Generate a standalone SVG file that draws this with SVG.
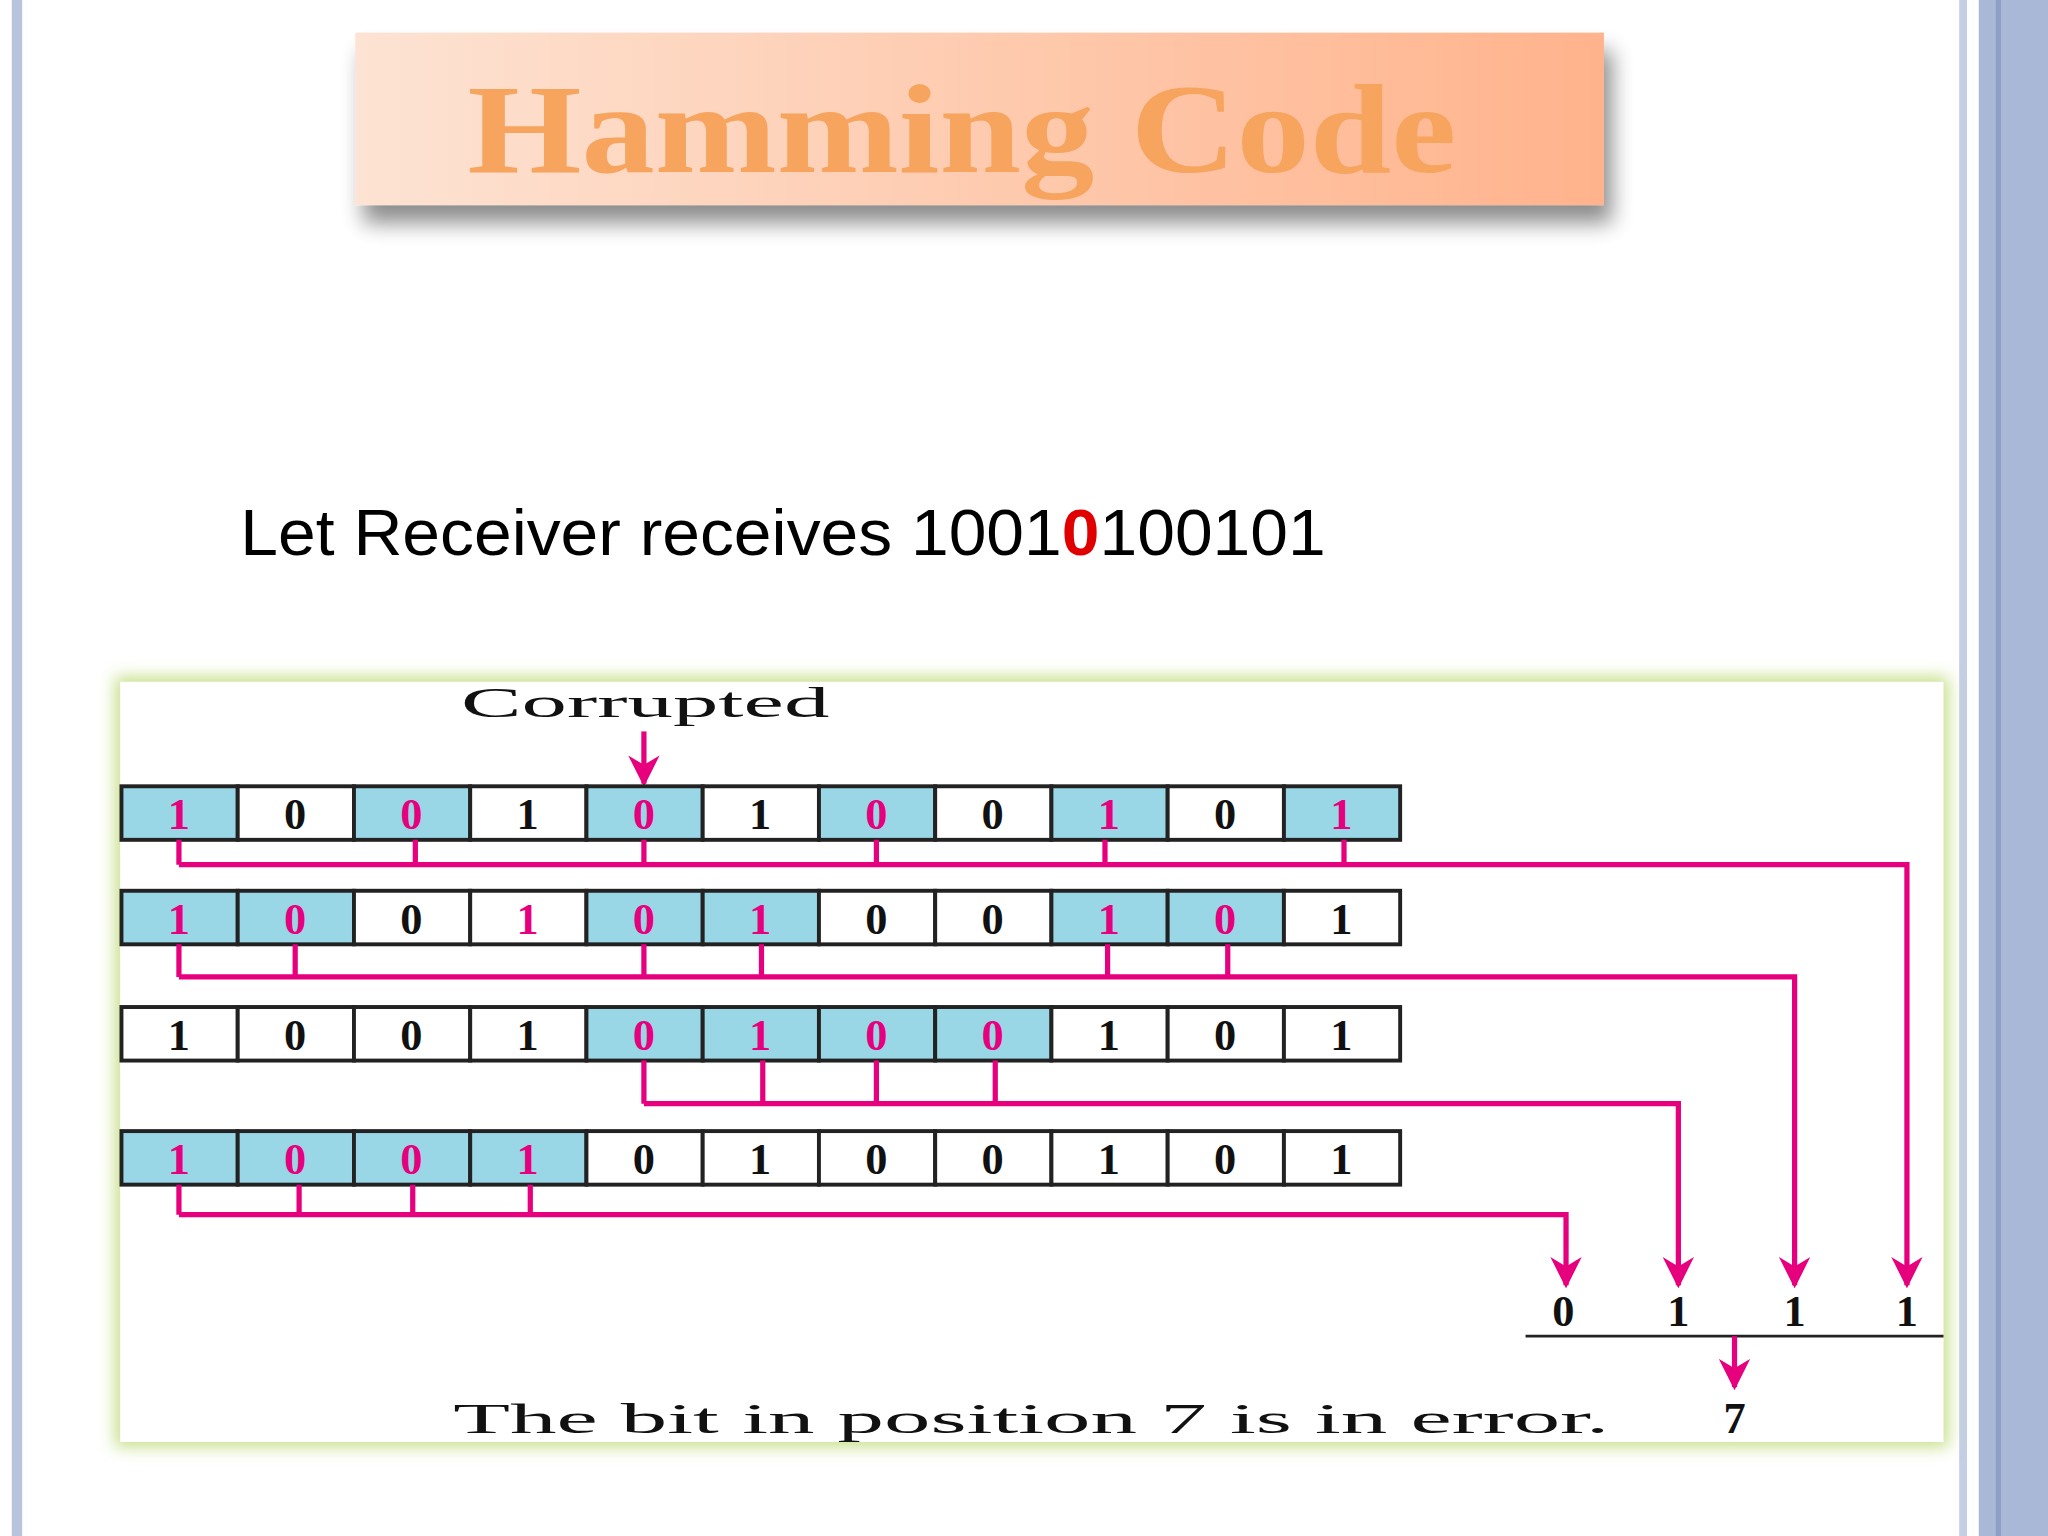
<svg xmlns="http://www.w3.org/2000/svg" width="2048" height="1536" viewBox="0 0 2048 1536">
<defs>
<linearGradient id="tg" x1="0" y1="0" x2="1" y2="0"><stop offset="0" stop-color="#FDE3D3"/><stop offset="1" stop-color="#FFB38C"/></linearGradient>
<filter id="sh" x="-10%" y="-30%" width="120%" height="170%"><feGaussianBlur in="SourceAlpha" stdDeviation="8"/><feOffset dx="6" dy="14"/><feComponentTransfer><feFuncA type="linear" slope="0.45"/></feComponentTransfer><feMerge><feMergeNode/><feMergeNode in="SourceGraphic"/></feMerge></filter>
<filter id="gl" x="-5%" y="-5%" width="110%" height="115%"><feGaussianBlur stdDeviation="6"/></filter>
<marker id="ar" viewBox="0 0 10 10" refX="9" refY="5" markerWidth="24" markerHeight="24" orient="auto" markerUnits="userSpaceOnUse"><path d="M0,0 L3,5 L0,10 L10,5 Z" fill="#E6007E"/></marker>
<style>
.c{stroke:#222;stroke-width:3;fill:#fff}
.b{fill:#99D6E6}
.t{font-family:"Liberation Serif",serif;font-weight:bold;font-size:34px;text-anchor:middle;fill:#111}
.p{fill:#E6007E}
.w{fill:none;stroke:#E6007E;stroke-width:4}
</style>
</defs>
<g transform="scale(1.30612)">
<rect width="1568" height="1176" fill="#fff"/>
<rect x="9" y="0" width="8" height="1176" fill="#B8C4DE"/>
<rect x="1500" y="0" width="6" height="1176" fill="#C4CEE4"/>
<rect x="1515" y="0" width="53" height="1176" fill="#A9B8D6"/>
<rect x="1528" y="0" width="4" height="1176" fill="#8EA0C6"/>
<g id="title">
<rect x="272" y="25" width="956" height="132" fill="url(#tg)" filter="url(#sh)"/>
<text x="358" y="132" font-family="Liberation Serif,serif" font-weight="bold" font-size="98" fill="#F6A45E" textLength="757" lengthAdjust="spacingAndGlyphs">Hamming Code</text>
</g>
<text x="184" y="425" font-family="Liberation Sans,Arial,sans-serif" font-size="50" fill="#000" textLength="831" lengthAdjust="spacingAndGlyphs">Let Receiver receives 1001<tspan fill="#E00000" font-weight="bold">0</tspan>100101</text>
<g id="panel">
<rect x="88" y="518" width="1404" height="590" fill="#C8E08C" filter="url(#gl)"/>
<rect x="92" y="522" width="1396" height="582" fill="#fff"/>
</g>
<g id="corrupted">
<text x="353" y="549" font-family="Liberation Serif,serif" font-size="32" fill="#111" textLength="282" lengthAdjust="spacingAndGlyphs">Corrupted</text>
<line x1="493" y1="560" x2="493" y2="600" class="w" marker-end="url(#ar)"/>
</g>
<g id="row1">
<rect class="c b" x="93" y="602" width="89" height="41"/><rect class="c" x="182" y="602" width="89" height="41"/><rect class="c b" x="271" y="602" width="89" height="41"/><rect class="c" x="360" y="602" width="89" height="41"/><rect class="c b" x="449" y="602" width="89" height="41"/><rect class="c" x="538" y="602" width="89" height="41"/><rect class="c b" x="627" y="602" width="89" height="41"/><rect class="c" x="716" y="602" width="89" height="41"/><rect class="c b" x="805" y="602" width="89" height="41"/><rect class="c" x="894" y="602" width="89" height="41"/><rect class="c b" x="983" y="602" width="89" height="41"/>
<text class="t p" x="137" y="635">1</text><text class="t" x="226" y="635">0</text><text class="t p" x="315" y="635">0</text><text class="t" x="404" y="635">1</text><text class="t p" x="493" y="635">0</text><text class="t" x="582" y="635">1</text><text class="t p" x="671" y="635">0</text><text class="t" x="760" y="635">0</text><text class="t p" x="849" y="635">1</text><text class="t" x="938" y="635">0</text><text class="t p" x="1027" y="635">1</text>
</g>
<g id="row2">
<rect class="c b" x="93" y="682" width="89" height="41"/><rect class="c b" x="182" y="682" width="89" height="41"/><rect class="c" x="271" y="682" width="89" height="41"/><rect class="c" x="360" y="682" width="89" height="41"/><rect class="c b" x="449" y="682" width="89" height="41"/><rect class="c b" x="538" y="682" width="89" height="41"/><rect class="c" x="627" y="682" width="89" height="41"/><rect class="c" x="716" y="682" width="89" height="41"/><rect class="c b" x="805" y="682" width="89" height="41"/><rect class="c b" x="894" y="682" width="89" height="41"/><rect class="c" x="983" y="682" width="89" height="41"/>
<text class="t p" x="137" y="715">1</text><text class="t p" x="226" y="715">0</text><text class="t" x="315" y="715">0</text><text class="t p" x="404" y="715">1</text><text class="t p" x="493" y="715">0</text><text class="t p" x="582" y="715">1</text><text class="t" x="671" y="715">0</text><text class="t" x="760" y="715">0</text><text class="t p" x="849" y="715">1</text><text class="t p" x="938" y="715">0</text><text class="t" x="1027" y="715">1</text>
</g>
<g id="row3">
<rect class="c" x="93" y="771" width="89" height="41"/><rect class="c" x="182" y="771" width="89" height="41"/><rect class="c" x="271" y="771" width="89" height="41"/><rect class="c" x="360" y="771" width="89" height="41"/><rect class="c b" x="449" y="771" width="89" height="41"/><rect class="c b" x="538" y="771" width="89" height="41"/><rect class="c b" x="627" y="771" width="89" height="41"/><rect class="c b" x="716" y="771" width="89" height="41"/><rect class="c" x="805" y="771" width="89" height="41"/><rect class="c" x="894" y="771" width="89" height="41"/><rect class="c" x="983" y="771" width="89" height="41"/>
<text class="t" x="137" y="804">1</text><text class="t" x="226" y="804">0</text><text class="t" x="315" y="804">0</text><text class="t" x="404" y="804">1</text><text class="t p" x="493" y="804">0</text><text class="t p" x="582" y="804">1</text><text class="t p" x="671" y="804">0</text><text class="t p" x="760" y="804">0</text><text class="t" x="849" y="804">1</text><text class="t" x="938" y="804">0</text><text class="t" x="1027" y="804">1</text>
</g>
<g id="row4">
<rect class="c b" x="93" y="866" width="89" height="41"/><rect class="c b" x="182" y="866" width="89" height="41"/><rect class="c b" x="271" y="866" width="89" height="41"/><rect class="c b" x="360" y="866" width="89" height="41"/><rect class="c" x="449" y="866" width="89" height="41"/><rect class="c" x="538" y="866" width="89" height="41"/><rect class="c" x="627" y="866" width="89" height="41"/><rect class="c" x="716" y="866" width="89" height="41"/><rect class="c" x="805" y="866" width="89" height="41"/><rect class="c" x="894" y="866" width="89" height="41"/><rect class="c" x="983" y="866" width="89" height="41"/>
<text class="t p" x="137" y="899">1</text><text class="t p" x="226" y="899">0</text><text class="t p" x="315" y="899">0</text><text class="t p" x="404" y="899">1</text><text class="t" x="493" y="899">0</text><text class="t" x="582" y="899">1</text><text class="t" x="671" y="899">0</text><text class="t" x="760" y="899">0</text><text class="t" x="849" y="899">1</text><text class="t" x="938" y="899">0</text><text class="t" x="1027" y="899">1</text>
</g>
<g id="connectors">
<path class="w" d="M137,643V662M318,643V662M493,643V662M671,643V662M846,643V662M1029,643V662"/>
<path class="w" d="M137,662H1460V984" marker-end="url(#ar)"/>
<path class="w" d="M137,723V748M226,723V748M493,723V748M583,723V748M848,723V748M940,723V748"/>
<path class="w" d="M137,748H1374V984" marker-end="url(#ar)"/>
<path class="w" d="M493,812V845M584,812V845M671,812V845M762,812V845"/>
<path class="w" d="M493,845H1285V984" marker-end="url(#ar)"/>
<path class="w" d="M137,907V930M229,907V930M316,907V930M406,907V930"/>
<path class="w" d="M137,930H1199V984" marker-end="url(#ar)"/>
<line x1="1168" y1="1023" x2="1488" y2="1023" stroke="#222" stroke-width="2"/>
<path class="w" d="M1328,1023V1062" marker-end="url(#ar)"/>
</g>
<g id="result">
<text class="t" x="1197" y="1015">0</text><text class="t" x="1285" y="1015">1</text><text class="t" x="1374" y="1015">1</text><text class="t" x="1460" y="1015">1</text>
<text class="t" x="1328" y="1097">7</text>
<text x="347" y="1097" font-family="Liberation Serif,serif" font-size="32" fill="#111" textLength="885" lengthAdjust="spacingAndGlyphs">The bit in position 7 is in error.</text>
</g>
</g>
</svg>
